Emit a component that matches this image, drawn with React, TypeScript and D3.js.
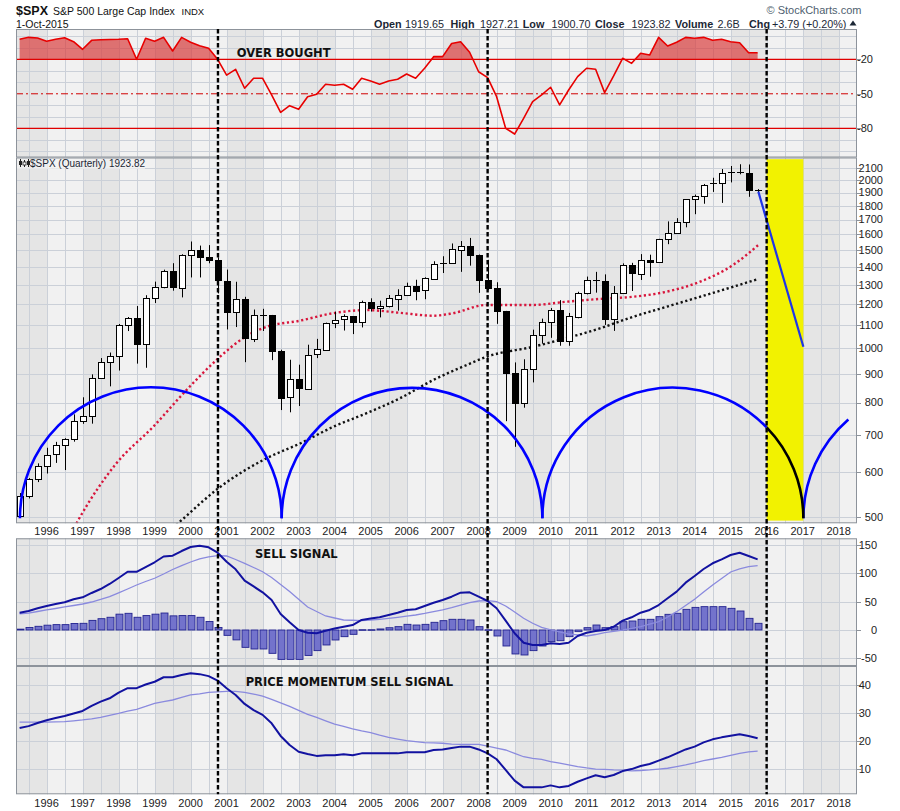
import React from "react";
import * as d3 from "d3";

// ---------- DATA ----------
const quarters = [
  "1995-04", "1995-07", "1995-10",
  "1996-01", "1996-04", "1996-07", "1996-10",
  "1997-01", "1997-04", "1997-07", "1997-10",
  "1998-01", "1998-04", "1998-07", "1998-10",
  "1999-01", "1999-04", "1999-07", "1999-10",
  "2000-01", "2000-04", "2000-07", "2000-10",
  "2001-01", "2001-04", "2001-07", "2001-10",
  "2002-01", "2002-04", "2002-07", "2002-10",
  "2003-01", "2003-04", "2003-07", "2003-10",
  "2004-01", "2004-04", "2004-07", "2004-10",
  "2005-01", "2005-04", "2005-07", "2005-10",
  "2006-01", "2006-04", "2006-07", "2006-10",
  "2007-01", "2007-04", "2007-07", "2007-10",
  "2008-01", "2008-04", "2008-07", "2008-10",
  "2009-01", "2009-04", "2009-07", "2009-10",
  "2010-01", "2010-04", "2010-07", "2010-10",
  "2011-01", "2011-04", "2011-07", "2011-10",
  "2012-01", "2012-04", "2012-07", "2012-10",
  "2013-01", "2013-04", "2013-07", "2013-10",
  "2014-01", "2014-04", "2014-07", "2014-10",
  "2015-01", "2015-04", "2015-07", "2015-10",
];

const spxOpen = [
  500.7, 544.8, 584.4, 615.9, 645.5, 670.6, 687.3, 740.7, 757.1, 885.1, 947.3,
  970.4, 1101.8, 1133.8, 1017.0, 1229.2, 1286.4, 1372.7, 1282.7, 1469.3, 1498.6,
  1454.6, 1436.5, 1320.3, 1160.3, 1224.4, 1040.9, 1148.1, 1147.4, 989.8, 815.3,
  879.8, 848.2, 974.5, 996.0, 1111.9, 1126.2, 1140.8, 1114.6, 1211.9, 1180.6,
  1191.3, 1228.8, 1248.3, 1294.8, 1270.2, 1335.9, 1418.3, 1420.9, 1503.4, 1526.8,
  1468.4, 1322.7, 1280.0, 1166.4, 903.3, 797.9, 919.3, 1057.1, 1115.1, 1169.4,
  1030.7, 1141.2, 1257.6, 1325.8, 1320.6, 1131.4, 1257.6, 1408.5, 1362.2, 1440.7,
  1426.2, 1569.2, 1606.3, 1681.6, 1848.4, 1872.3, 1960.2, 1972.3, 2058.9, 2067.9,
  2063.1, 1919.7,
];
const spxHigh = [
  551.1, 586.2, 622.9, 664.2, 680.5, 690.9, 762.1, 817.7, 898.7, 961.0, 983.1,
  1105.7, 1138.0, 1190.6, 1244.9, 1316.6, 1383.0, 1420.3, 1473.6, 1553.1, 1527.2,
  1530.1, 1454.8, 1383.4, 1315.9, 1236.7, 1173.6, 1177.0, 1147.8, 994.5, 954.3,
  935.1, 1015.3, 1040.0, 1112.0, 1163.2, 1150.6, 1140.8, 1217.3, 1229.1, 1216.9,
  1245.9, 1275.8, 1310.9, 1326.7, 1340.3, 1431.8, 1461.6, 1540.6, 1555.9, 1576.1,
  1471.8, 1440.2, 1313.2, 1167.0, 943.9, 956.2, 1080.2, 1130.4, 1180.7, 1219.8,
  1157.2, 1262.6, 1344.1, 1370.6, 1356.5, 1292.7, 1419.2, 1422.4, 1474.5, 1471.0,
  1570.3, 1687.2, 1709.7, 1849.4, 1884.0, 1968.2, 2019.3, 2093.6, 2119.6, 2134.7,
  2132.8, 1927.2,
];
const spxLow = [
  500.2, 539.0, 576.6, 597.3, 624.0, 605.9, 681.0, 733.0, 733.5, 884.9, 855.3,
  912.8, 1074.0, 939.2, 923.3, 1205.5, 1281.0, 1268.4, 1233.7, 1339.4, 1339.4,
  1420.0, 1254.1, 1081.2, 1091.9, 944.8, 1026.5, 1074.4, 952.9, 775.7, 768.6,
  788.9, 847.9, 960.8, 990.4, 1087.2, 1076.3, 1060.7, 1090.2, 1163.7, 1136.2,
  1183.6, 1168.2, 1245.7, 1219.3, 1224.5, 1327.1, 1364.0, 1416.4, 1370.6, 1406.1,
  1257.0, 1272.0, 1106.4, 741.0, 666.8, 783.3, 869.3, 1020.0, 1044.5, 1010.9,
  1010.9, 1131.9, 1249.1, 1258.1, 1101.5, 1074.8, 1258.9, 1266.7, 1325.4, 1343.4,
  1426.2, 1536.0, 1604.6, 1646.5, 1737.9, 1814.4, 1904.8, 1820.7, 1980.9, 2048.4,
  1867.0, 1900.7,
];
const spxClose = [
  544.8, 584.4, 615.9, 645.5, 670.6, 687.3, 740.7, 757.1, 885.1, 947.3, 970.4,
  1101.8, 1133.8, 1017.0, 1229.2, 1286.4, 1372.7, 1282.7, 1469.3, 1498.6, 1454.6,
  1436.5, 1320.3, 1160.3, 1224.4, 1040.9, 1148.1, 1147.4, 989.8, 815.3, 879.8,
  848.2, 974.5, 996.0, 1111.9, 1126.2, 1140.8, 1114.6, 1211.9, 1180.6, 1191.3,
  1228.8, 1248.3, 1294.8, 1270.2, 1335.9, 1418.3, 1420.9, 1503.4, 1526.8, 1468.4,
  1322.7, 1280.0, 1166.4, 903.3, 797.9, 919.3, 1057.1, 1115.1, 1169.4, 1030.7,
  1141.2, 1257.6, 1325.8, 1320.6, 1131.4, 1257.6, 1408.5, 1362.2, 1440.7, 1426.2,
  1569.2, 1606.3, 1681.6, 1848.4, 1872.3, 1960.2, 1972.3, 2058.9, 2067.9, 2063.1,
  1920.0, 1923.8,
];

// Williams %R (top panel)
const williamsR = [
  -2.6, -0.9, -1.5, -4.3, -2.6, -1.2, -4.7, -11.3, -3.5, -3,
  -2.8, -2.6, -2.1, -20, -1.7, -4.3, -0.9, -12.8, -0.9, -5.2,
  -8.2, -10.4, -20, -33.7, -28.7, -45.2, -36.5, -36.5, -51, -66.1,
  -60.3, -63.5, -52.5, -50.4, -41.7, -42.6, -41.7, -46.1, -36.5, -38.9,
  -41.7, -38.9, -37.4, -32.8, -36.5, -27.8, -17.7, -17.7, -6.3, -4.7,
  -13.9, -30.8, -36, -52.5, -80, -85, -71.3, -56.9, -51, -44.3,
  -59.7, -46.7, -35.1, -27.8, -28.7, -49, -34.5, -19.1, -23.5, -14.8,
  -16.3, -0.9, -8.4, -5.2, -0.9, -1.7, -0.9, -3.5, -2.6, -4.7,
  -5.6, -14.3, -14.3,
];

// MACD panel
const macdLine = [
  30.6, 33.6, 38.4, 42.5, 46, 49, 54.3, 57.8, 65.5, 72.5,
  81.4, 92, 103, 103, 111.4, 119.8, 130, 131.4, 139.7, 146.8,
  149, 146.3, 136.7, 120.8, 107.4, 87.2, 77, 66.7, 53, 28.3,
  13.6, 0, -4.8, -5.8, -1.2, 2.6, 5.8, 8.8, 17.7, 20.3,
  22.5, 26.5, 30.6, 35.4, 36.6, 42.5, 48.3, 53, 58.9, 66,
  66.7, 58.9, 51.3, 38.4, 16.5, -5.8, -22.5, -26.5, -26.5, -23.5,
  -24.8, -22.5, -10.6, -4.8, -1.8, 0, 5.8, 16.5, 22.5, 30.6,
  35.4, 44.2, 56.1, 67.8, 83.7, 95.5, 107.9, 118, 125, 132.7,
  136.7, 130.9, 125,
];
const macdSignal = [
  28.7, 30, 32.7, 35.4, 38, 40.7, 43.3, 46, 49.5, 54,
  58.9, 65.5, 72.5, 79.6, 85.8, 91.5, 99, 107, 114, 120.3,
  125.6, 129.5, 131.4, 130.9, 124.7, 118, 110.6, 103, 92.9, 80.5,
  68.1, 54.3, 40.7, 32.7, 24.8, 21.2, 17.7, 17.2, 16.5, 17.7,
  18.9, 20.7, 22.5, 24.4, 26.5, 29.2, 32.4, 35.7, 39.4, 44.2,
  48.3, 51.3, 51.8, 50.1, 42.5, 31.8, 20.7, 11.9, 4.8, 0,
  -3.5, -7.1, -8.8, -10.6, -8, -4.8, -2.3, 0, 2.7, 5.8,
  10.3, 14.7, 23, 32.4, 43.3, 54.3, 67.2, 79.6, 91.1, 102.6,
  107.9, 112, 113.7,
];
const macdHist = [
  1.5, 4.5, 6.5, 8.5, 9.5, 9.5, 11.5, 11.8, 17, 20,
  22.5, 28, 29.5, 22.5, 25.5, 28, 30, 25, 25.5, 25.5,
  22.5, 15, 4.5, -9.5, -17.5, -30.7, -33.6, -33.6, -41.3, -52,
  -52, -52, -45, -36.5, -26.5, -17.7, -11.8, -7.7, 0.5, 0.5,
  1.8, 4, 5.9, 10, 8.8, 10, 13.6, 16.5, 18.9, 18.9,
  17.7, 5.9, 0.5, -10.6, -28.3, -42.4, -44.2, -36.5, -28.3, -20.6,
  -19, -11.8, -2.9, 4.1, 8.8, 4.1, 5.9, 14.7, 15.9, 18.9,
  18.9, 23.6, 27.7, 29.5, 36.5, 40, 41.3, 41.3, 41.3, 38.3,
  33.6, 20.6, 11.8,
];

// Price momentum panel
const momLine = [
  24.6, 25.3, 26.4, 27.4, 28.2, 28.9, 29.8, 30.7, 32.5, 34,
  35.2, 37.2, 38.8, 38.8, 40.1, 41.1, 42.7, 42.7, 43.5, 44.1,
  43.8, 43.1, 41.5, 38.8, 36.4, 33.2, 31, 29.3, 26.3, 21.8,
  18.6, 16.2, 15.4, 14.7, 14.9, 14.9, 15.3, 14.9, 15.6, 15.6,
  15.6, 15.6, 15.6, 16, 16, 16, 16.8, 17, 17.5, 18,
  18, 17, 15.6, 13.5, 9.7, 5.9, 3.5, 3.5, 3.5, 4.2,
  3.5, 4, 5.5, 6.7, 7.8, 7.1, 7.9, 9.3, 10, 11.1,
  11.8, 13, 14.2, 15.6, 17, 18, 19.5, 20.6, 21.3, 21.9,
  22.4, 21.8, 21,
];
const momSignal = [
  26.7, 26.7, 26.7, 26.7, 26.8, 26.9, 27.2, 27.5, 27.9, 28.4,
  29.1, 29.8, 30.6, 31.3, 32.3, 33.4, 34, 34.6, 35.5, 36.4,
  36.8, 37.3, 37.5, 37.7, 37.7, 37.3, 36.7, 36, 34.8, 33.6,
  32.3, 30.9, 29.5, 28.4, 27.2, 26, 25.2, 24.3, 23.6, 23,
  22.1, 21.3, 20.7, 20.1, 19.8, 19.4, 19.3, 19.2, 18.9, 18.8,
  18.8, 18.8, 18.2, 17.5, 16.8, 15.6, 14.4, 13.8, 13.5, 12.7,
  12.1, 11.5, 10.9, 10.4, 10, 9.9, 9.7, 9.6, 9.4, 9.5,
  9.7, 10, 10.3, 10.9, 11.5, 12.2, 13, 13.6, 14.2, 14.9,
  15.6, 16.1, 16.4,
];

// Moving averages on price (decimal year, value)
const redMADates = [1996.4, 1996.88, 1997.94, 1998.96, 1999.89, 2000.77, 2001.46, 2002.11, 2003.04, 2003.96, 2004.89, 2005.81, 2006.74, 2007.29, 2008.22, 2009.52, 2010.44, 2011.37, 2012.29, 2013.22, 2014.15, 2015.07, 2015.77];
const redMAValues = [430, 493, 623, 724, 843, 960, 1043, 1093, 1121, 1156, 1171, 1158, 1144, 1156, 1196, 1196, 1212, 1226, 1237, 1263, 1316, 1410, 1531];
const blackMADates = [1999.3, 1999.75, 2000.77, 2002.11, 2003.04, 2003.96, 2004.89, 2005.81, 2006.74, 2007.67, 2008.22, 2009.52, 2010.44, 2011.37, 2012.29, 2013.22, 2014.15, 2015.07, 2015.77];
const blackMAValues = [465, 493, 562, 636, 676, 724, 766, 814, 878, 934, 966, 1007, 1043, 1086, 1139, 1187, 1237, 1289, 1331];

// Cycle lows, projection, highlight
const cycleLows = [1995.26, 2002.53, 2009.77, 2017.02];
const cycleEnd = 2018.27;
const cycleBase = 497;
const projection = [[2015.77, 1907], [2017.02, 1007]];
const highlightSpan = [2016.0, 2017.02];
const highlightRange = [492, 2180];
const signalDates = [2000.76, 2008.25, 2016.0];

// Ticks
const yearLabels = ["1996", "1997", "1998", "1999", "2000", "2001", "2002", "2003", "2004", "2005", "2006", "2007", "2008", "2009", "2010", "2011", "2012", "2013", "2014", "2015", "2016", "2017", "2018"];
const priceTicks = [500, 600, 700, 800, 900, 1000, 1100, 1200, 1300, 1400, 1500, 1600, 1700, 1800, 1900, 2000, 2100];
const rsiTicks = [-20, -50, -80];
const rsiGrid = [0, -10, -30, -40, -60, -70, -90, -100];
const macdTicks = [150, 100, 50, 0, -50];
const momTicks = [40, 30, 20, 10];

// ---------- LAYOUT ----------
const PL = 16, PR = 857;
const RSI = [29, 157.5];
const MAIN = [157.5, 523.3];
const MACD = [538.3, 666];
const MOM = [666, 794.3];

const FONT = "'Liberation Sans', Arial, sans-serif";
const BOLDFONT = "'DejaVu Sans', Verdana, sans-serif";
const GRID = "#cbd0d8";
const BAND_L = "#f1f1f1";
const BAND_D = "#e5e5e5";

export default function App() {
  const x = d3.scaleLinear().domain([1995.15, 2018.51]).range([PL, PR]);
  const t = quarters.map((q) => +q.slice(0, 4) + (+q.slice(5, 7) - 1) / 12);
  const yR = d3.scaleLinear().domain([-105.4, 6.35]).range([RSI[1], RSI[0]]);
  const yM = d3.scaleLog().domain([486.6, 2195]).range([MAIN[1], MAIN[0]]);
  const yC = d3.scaleLinear().domain([-63.7, 162.2]).range([MACD[1], MACD[0]]);
  const yP = d3.scaleLinear().domain([1.03, 46.7]).range([MOM[1], MOM[0]]);

  const years = d3.range(1995, 2019);
  const halfYears = d3.range(1995.5, 2018.6, 0.5);

  const bands = (top: number, bottom: number, key: string) =>
    years.map((yr) => {
      const x0 = Math.max(PL, x(yr));
      const x1 = Math.min(PR, x(yr + 1));
      if (x1 <= x0) return null;
      return (
        <rect key={key + yr} x={x0} y={top} width={x1 - x0} height={bottom - top}
          fill={yr % 2 === 1 ? BAND_D : BAND_L} shapeRendering="crispEdges" />
      );
    });
  const vgrid = (top: number, bottom: number, key: string) =>
    halfYears.map((hy) => {
      const xx = Math.round(x(hy)) + 0.5;
      if (xx <= PL || xx >= PR) return null;
      return <line key={key + hy} x1={xx} x2={xx} y1={top} y2={bottom} stroke={GRID} strokeWidth={1} />;
    });
  const hgrid = (vals: number[], sc: (v: number) => number, key: string) =>
    vals.map((v) => {
      const yy = Math.round(sc(v)) + 0.5;
      return <line key={key + v} x1={PL} x2={PR} y1={yy} y2={yy} stroke={GRID} strokeWidth={1} />;
    });

  // RSI
  const rsiLine = d3.line<number>().x((d, i) => x(t[i])).y((d) => yR(d))(williamsR) || "";
  const rsiArea = d3.area<number>().x((d, i) => x(t[i])).y0(yR(-20)).y1((d) => yR(d))(williamsR) || "";

  // MAs
  const maLine = d3.line<number[]>().x((d) => x(d[0])).y((d) => yM(d[1])).curve(d3.curveMonotoneX);
  const redPath = maLine(redMADates.map((d, i) => [d, redMAValues[i]])) || "";
  const blackPath = maLine(blackMADates.map((d, i) => [d, blackMAValues[i]])) || "";

  // Cycle arcs
  const baseY = yM(cycleBase);
  const bluePaths: string[] = [];
  let blackArc = "";
  let rLast = 0;
  for (let i = 0; i < cycleLows.length - 1; i++) {
    const a = x(cycleLows[i]);
    const b = x(cycleLows[i + 1]);
    const cx = (a + b) / 2;
    const r = (b - a) / 2;
    rLast = r;
    const p = d3.path();
    p.moveTo(a, baseY);
    if (i === cycleLows.length - 2) {
      const xs = x(highlightSpan[0]);
      const th = 2 * Math.PI - Math.acos((xs - cx) / r);
      p.arc(cx, baseY, r, Math.PI, th, false);
      const q = d3.path();
      q.moveTo(cx + r * Math.cos(th), baseY + r * Math.sin(th));
      q.arc(cx, baseY, r, th, 2 * Math.PI, false);
      blackArc = q.toString();
    } else {
      p.arc(cx, baseY, r, Math.PI, 2 * Math.PI, false);
    }
    bluePaths.push(p.toString());
  }
  {
    const a = x(cycleLows[cycleLows.length - 1]);
    const cx = a + rLast;
    const xe = x(cycleEnd);
    const th = 2 * Math.PI - Math.acos((xe - cx) / rLast);
    const p = d3.path();
    p.moveTo(a, baseY);
    p.arc(cx, baseY, rLast, Math.PI, th, false);
    bluePaths.push(p.toString());
  }

  // MACD / momentum lines
  const lineOn = (sc: (v: number) => number) => d3.line<number>().x((d, i) => x(t[i])).y((d) => sc(d));
  const macdPath = lineOn(yC)(macdLine) || "";
  const macdSigPath = lineOn(yC)(macdSignal) || "";
  const momPath = lineOn(yP)(momLine) || "";
  const momSigPath = lineOn(yP)(momSignal) || "";

  const frame = (top: number, bottom: number, key: string) => (
    <rect key={key} x={PL + 0.5} y={top + 0.5} width={PR - PL - 1} height={bottom - top - 1}
      fill="none" stroke="#8d939b" strokeWidth={1} />
  );

  const axisLabels = (vals: number[], sc: (v: number) => number, xr: number, key: string, fmt = (v: number) => String(v)) =>
    vals.map((v) => (
      <g key={key + v}>
        <line x1={PR} x2={PR + 4} y1={Math.round(sc(v)) + 0.5} y2={Math.round(sc(v)) + 0.5} stroke="#8d939b" />
        <text x={xr} y={sc(v)} dy="0.35em" textAnchor="end" fontFamily={FONT} fontSize={11} fill="#222">{fmt(v)}</text>
      </g>
    ));

  const headerItems = [
    { label: "Open", value: "1919.65", lx: 374, vx: 405 },
    { label: "High", value: "1927.21", lx: 450.5, vx: 480 },
    { label: "Low", value: "1900.70", lx: 522.7, vx: 551.5 },
    { label: "Close", value: "1923.82", lx: 595, vx: 631.5 },
    { label: "Volume", value: "2.6B", lx: 675, vx: 717.5 },
    { label: "Chg", value: "+3.79 (+0.20%)", lx: 749, vx: 772 },
  ];

  return (
    <svg width={900} height={811} style={{ position: "absolute", left: 0, top: 0, background: "#fff" }}>
      <defs>
        <clipPath id="cRsi"><rect x={PL} y={RSI[0]} width={PR - PL} height={RSI[1] - RSI[0]} /></clipPath>
        <clipPath id="cOB"><rect x={PL} y={RSI[0]} width={PR - PL} height={yR(-20) - RSI[0]} /></clipPath>
        <clipPath id="cMain"><rect x={PL} y={MAIN[0]} width={PR - PL} height={MAIN[1] - MAIN[0]} /></clipPath>
        <clipPath id="cMacd"><rect x={PL} y={MACD[0]} width={PR - PL} height={MACD[1] - MACD[0]} /></clipPath>
        <clipPath id="cMom"><rect x={PL} y={MOM[0]} width={PR - PL} height={MOM[1] - MOM[0]} /></clipPath>
      </defs>
      <rect x={0} y={0} width={900} height={811} fill="#fff" />

      {/* Header */}
      <text x={16} y={14.5} fontFamily={FONT} fontSize={12.5} fontWeight="bold" fill="#111">$SPX</text>
      <text x={53} y={14.5} fontFamily={FONT} fontSize={10.5} fill="#111">{"S&P 500 Large Cap Index"}</text>
      <text x={181.5} y={14.5} fontFamily={FONT} fontSize={9.5} fill="#111">INDX</text>
      <text x={16} y={27.5} fontFamily={FONT} fontSize={10.5} fill="#111">1-Oct-2015</text>
      <text x={766.5} y={14} fontFamily={FONT} fontSize={11} fill="#4f5f70">{"\u00A9 StockCharts.com"}</text>
      {headerItems.map((h) => (
        <g key={h.label}>
          <text x={h.lx} y={27.5} fontFamily={FONT} fontSize={10.8} fontWeight="bold" fill="#1b2735">{h.label}</text>
          <text x={h.vx} y={27.5} fontFamily={FONT} fontSize={10.8} fill="#1b2735">{h.value}</text>
        </g>
      ))}
      <path d="M849.5,25.5 L853,20.5 L856.5,25.5 Z" fill="#1b2735" />

      {/* RSI panel */}
      <g>
        {bands(RSI[0], RSI[1], "rb")}
        {vgrid(RSI[0], RSI[1], "rv")}
        {hgrid(rsiGrid, yR, "rh")}
        <g clipPath="url(#cRsi)">
          <g clipPath="url(#cOB)">
            <path d={rsiArea} fill="#d93a3a" fillOpacity={0.68} stroke="none" />
          </g>
          <line x1={PL} x2={PR} y1={yR(-20)} y2={yR(-20)} stroke="#e00000" strokeWidth={1.2} />
          <line x1={PL} x2={PR} y1={yR(-80)} y2={yR(-80)} stroke="#e00000" strokeWidth={1.2} />
          <line x1={PL} x2={PR} y1={yR(-50)} y2={yR(-50)} stroke="#d00000" strokeWidth={1} strokeDasharray="7,3,2,3" />
          <path d={rsiLine} fill="none" stroke="#e80000" strokeWidth={1.6} strokeLinejoin="round" />
        </g>
        <text x={236.7} y={57} fontFamily={BOLDFONT} fontSize={11.5} fontWeight="bold" fill="#111">OVER BOUGHT</text>
        {frame(RSI[0], RSI[1], "rf")}
        {axisLabels(rsiTicks, yR, 873, "ra")}
      </g>

      {/* Main panel */}
      <g>
        {bands(MAIN[0], MAIN[1], "mb")}
        {vgrid(MAIN[0], MAIN[1], "mv")}
        {hgrid(priceTicks, yM, "mh")}
        <g clipPath="url(#cMain)">
          <rect x={x(highlightSpan[0])} y={yM(highlightRange[1])} width={x(highlightSpan[1]) - x(highlightSpan[0])}
            height={yM(highlightRange[0]) - yM(highlightRange[1])} fill="#f2f200" />
          <path d={redPath} fill="none" stroke="#d8163c" strokeWidth={2.4} strokeDasharray="2.2,2.6" />
          <path d={blackPath} fill="none" stroke="#111" strokeWidth={2.4} strokeDasharray="2.2,2.6" />
          {spxOpen.map((o, i) => {
            const c = spxClose[i];
            const cx = Math.round(x(t[i]));
            const up = c >= o;
            const yTop = yM(Math.max(o, c));
            const yBot = yM(Math.min(o, c));
            const hgt = Math.max(1, yBot - yTop);
            return (
              <g key={"c" + i}>
                <line x1={cx + 0.5} x2={cx + 0.5} y1={yM(spxHigh[i])} y2={yM(spxLow[i])} stroke="#000" strokeWidth={1} />
                {hgt <= 1.5 ? (
                  <line x1={cx - 3} x2={cx + 4} y1={Math.round(yTop) + 0.5} y2={Math.round(yTop) + 0.5} stroke="#000" strokeWidth={1} />
                ) : (
                  <rect x={cx - 2.5} y={Math.round(yTop) + 0.5} width={6} height={Math.round(hgt)}
                    fill={up ? "#fff" : "#000"} stroke="#000" strokeWidth={1} />
                )}
              </g>
            );
          })}
          {bluePaths.map((p, i) => (
            <path key={"bp" + i} d={p} fill="none" stroke="#0000ff" strokeWidth={2.6} />
          ))}
          <path d={blackArc} fill="none" stroke="#000" strokeWidth={2.6} />
          <line x1={x(projection[0][0])} y1={yM(projection[0][1])} x2={x(projection[1][0])} y2={yM(projection[1][1])}
            stroke="#1f35e8" strokeWidth={2.2} />
        </g>
        <g>
          <rect x={17} y={158} width={128} height={11} fill="#f3f3f3" opacity={0.7} />
          <path d="M20.5,159v8 M24.5,160v7 M28.5,159v8" stroke="#222" strokeWidth={1} />
          <rect x={19} y={161} width={3} height={4} fill="#222" />
          <rect x={23} y={162} width={3} height={3} fill="#fff" stroke="#222" strokeWidth={0.8} />
          <rect x={27} y={161} width={3} height={4} fill="#222" />
          <text x={30} y={166.5} fontFamily={FONT} fontSize={10} fill="#1b2735">$SPX (Quarterly) 1923.82</text>
        </g>
        {frame(MAIN[0], MAIN[1], "mf")}
        {axisLabels(priceTicks, yM, 883, "ma")}
      </g>

      {/* Year labels between main and MACD */}
      {yearLabels.map((yl) => (
        <text key={"yt" + yl} x={x(+yl)} y={535} textAnchor="middle" fontFamily={FONT} fontSize={11} fill="#222">{yl}</text>
      ))}

      {/* MACD panel */}
      <g>
        {bands(MACD[0], MACD[1], "cb")}
        {vgrid(MACD[0], MACD[1], "cv")}
        {hgrid(macdTicks, yC, "ch")}
        <g clipPath="url(#cMacd)">
          {macdHist.map((v, i) => {
            const cx = Math.round(x(t[i]));
            const y0 = yC(0);
            const y1 = yC(v);
            return (
              <rect key={"h" + i} x={cx - 3} y={Math.min(y0, y1)} width={7} height={Math.max(0.6, Math.abs(y1 - y0))}
                fill="#7373cc" stroke="#22228f" strokeWidth={0.9} />
            );
          })}
          <path d={macdSigPath} fill="none" stroke="#8a8ade" strokeWidth={1.3} />
          <path d={macdPath} fill="none" stroke="#1212a0" strokeWidth={2} strokeLinejoin="round" />
        </g>
        <text x={255} y={558} fontFamily={BOLDFONT} fontSize={11.5} fontWeight="bold" fill="#111">SELL SIGNAL</text>
        {frame(MACD[0], MACD[1], "cf")}
        {axisLabels(macdTicks, yC, 877, "ca")}
      </g>

      {/* Momentum panel */}
      <g>
        {bands(MOM[0], MOM[1], "pb")}
        {vgrid(MOM[0], MOM[1], "pv")}
        {hgrid(momTicks, yP, "ph")}
        <g clipPath="url(#cMom)">
          <path d={momSigPath} fill="none" stroke="#8a8ade" strokeWidth={1.3} />
          <path d={momPath} fill="none" stroke="#1212a0" strokeWidth={2} strokeLinejoin="round" />
        </g>
        <text x={245.7} y={686} fontFamily={BOLDFONT} fontSize={11.5} fontWeight="bold" fill="#111">PRICE MOMENTUM SELL SIGNAL</text>
        {frame(MOM[0], MOM[1], "pf")}
        {axisLabels(momTicks, yP, 871, "pa")}
      </g>

      {/* Bottom year labels */}
      {yearLabels.map((yl) => (
        <text key={"yb" + yl} x={x(+yl)} y={806.5} textAnchor="middle" fontFamily={FONT} fontSize={11} fill="#222">{yl}</text>
      ))}

      {/* Signal dashed verticals */}
      {signalDates.map((d) => (
        <line key={"sd" + d} x1={x(d)} x2={x(d)} y1={RSI[0]} y2={MOM[1]} stroke="#000" strokeWidth={2.4} strokeDasharray="4.5,2.5" />
      ))}
    </svg>
  );
}
